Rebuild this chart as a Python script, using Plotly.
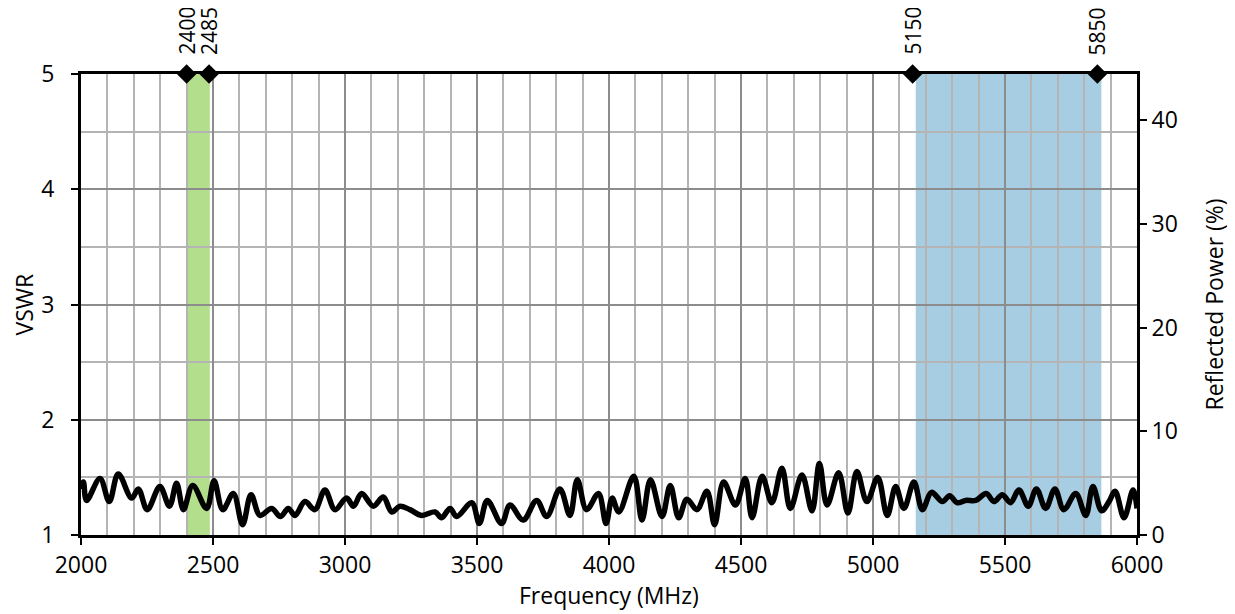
import plotly.graph_objects as go

freq_mhz = [2000, 2009, 2021, 2072, 2107, 2141, 2192, 2217, 2251, 2299, 2335, 2362, 2388, 2423, 2476,
            2504, 2537, 2577, 2612, 2644, 2678, 2722, 2756, 2785, 2811, 2848, 2886, 2924, 2962, 3006,
            3032, 3063, 3107, 3145, 3177, 3208, 3246, 3290, 3341, 3366, 3398, 3423, 3480, 3509, 3539,
            3593, 3625, 3675, 3726, 3764, 3814, 3852, 3880, 3915, 3960, 3989, 4012, 4037, 4094, 4125,
            4157, 4201, 4232, 4264, 4295, 4333, 4371, 4400, 4434, 4479, 4516, 4542, 4580, 4617, 4655,
            4687, 4731, 4769, 4797, 4826, 4870, 4905, 4939, 4977, 5018, 5054, 5086, 5117, 5155, 5187,
            5222, 5263, 5290, 5319, 5351, 5389, 5429, 5458, 5490, 5521, 5553, 5588, 5619, 5654, 5689,
            5723, 5768, 5806, 5833, 5866, 5894, 5917, 5951, 5985, 6000]
vswr = [1.40, 1.46, 1.30, 1.49, 1.29, 1.53, 1.32, 1.40, 1.22, 1.42, 1.25, 1.45, 1.22, 1.43, 1.23,
        1.47, 1.22, 1.36, 1.09, 1.35, 1.17, 1.23, 1.16, 1.23, 1.17, 1.29, 1.22, 1.39, 1.22, 1.32,
        1.25, 1.36, 1.25, 1.33, 1.20, 1.25, 1.22, 1.17, 1.20, 1.15, 1.23, 1.16, 1.28, 1.10, 1.30,
        1.10, 1.26, 1.13, 1.30, 1.16, 1.40, 1.17, 1.48, 1.22, 1.36, 1.10, 1.32, 1.20, 1.51, 1.13,
        1.48, 1.16, 1.43, 1.15, 1.31, 1.22, 1.38, 1.09, 1.46, 1.26, 1.49, 1.15, 1.51, 1.28, 1.58,
        1.23, 1.52, 1.21, 1.62, 1.26, 1.54, 1.19, 1.55, 1.29, 1.50, 1.17, 1.42, 1.23, 1.46, 1.22,
        1.37, 1.29, 1.34, 1.28, 1.30, 1.30, 1.36, 1.29, 1.35, 1.28, 1.39, 1.25, 1.40, 1.23, 1.40,
        1.22, 1.36, 1.17, 1.42, 1.21, 1.29, 1.38, 1.15, 1.39, 1.23]

band_edges = [2400, 2485, 5150, 5850]
band_labels = ["2400", "2485", "5150", "5850"]
green_band = [2400, 2488]
blue_band = [5162, 5865]
green_color = "#b3de8b"
blue_color = "#a6cde2"

x_ticks = [2000, 2500, 3000, 3500, 4000, 4500, 5000, 5500, 6000]
y_ticks = [1, 2, 3, 4, 5]
y2_ticks = [0, 10, 20, 30, 40]
vswr_range = [1, 5]
power_max = 100 * ((5 - 1) / (5 + 1)) ** 2  # reflected power at VSWR 5

FONT = "Open Sans"
FS = 23
fig = go.Figure()

fig.add_trace(go.Scatter(x=freq_mhz, y=vswr, mode="lines",
                         line=dict(color="black", width=5.5, shape="spline", smoothing=1.0),
                         showlegend=False, hoverinfo="skip"))

# invisible trace for secondary axis
fig.add_trace(go.Scatter(x=[2000, 6000], y=[0, power_max], yaxis="y2", mode="lines",
                         line=dict(width=0), opacity=0, showlegend=False, hoverinfo="skip"))

# band markers
fig.add_trace(go.Scatter(x=band_edges, y=[5] * len(band_edges), mode="markers",
                         marker=dict(symbol="diamond", size=15, color="black"),
                         cliponaxis=False, showlegend=False, hoverinfo="skip"))

for x, lab in zip(band_edges, band_labels):
    fig.add_annotation(x=x, y=1, xref="x", yref="paper", text=lab, showarrow=False,
                       textangle=-90, xanchor="center", yanchor="bottom", yshift=17,
                       font=dict(family=FONT, size=21, color="black"))

# axis titles placed as annotations for precise placement
fig.add_annotation(x=0.5, y=0, xref="paper", yref="paper", text="Frequency (MHz)",
                   showarrow=False, xanchor="center", yanchor="middle", yshift=-60,
                   font=dict(family=FONT, size=FS, color="black"))
fig.add_annotation(x=0, y=0.5, xref="paper", yref="paper", text="VSWR",
                   showarrow=False, xanchor="center", yanchor="middle", xshift=-58, textangle=-90,
                   font=dict(family=FONT, size=FS, color="black"))
fig.add_annotation(x=1, y=0.5, xref="paper", yref="paper", text="Reflected Power (%)",
                   showarrow=False, xanchor="center", yanchor="middle", xshift=76, textangle=-90,
                   font=dict(family=FONT, size=FS, color="black"))

fig.add_shape(type="rect", x0=green_band[0], x1=green_band[1], y0=0, y1=1, xref="x", yref="paper",
              fillcolor=green_color, line=dict(width=0), layer="below")
fig.add_shape(type="rect", x0=blue_band[0], x1=blue_band[1], y0=0, y1=1, xref="x", yref="paper",
              fillcolor=blue_color, line=dict(width=0), layer="below")

fig.update_layout(
    width=1227, height=606,
    margin=dict(l=73, r=98, t=66, b=79, autoexpand=False),
    paper_bgcolor="white", plot_bgcolor="rgba(0,0,0,0)",
    font=dict(family=FONT, size=FS, color="black"),
    xaxis=dict(range=[2000, 6000], tickvals=x_ticks, ticks="outside", ticklen=7, tickwidth=2,
               tickcolor="black", showline=True, linecolor="black", linewidth=3, mirror=True,
               showgrid=True, gridcolor="#8c8c8c", gridwidth=2,
               minor=dict(dtick=100, showgrid=True, gridcolor="#b4b4b4", gridwidth=1.5, ticks=""),
               zeroline=False, automargin=False, ticklabelstandoff=0,
               tickfont=dict(size=FS)),
    yaxis=dict(range=vswr_range, tickvals=y_ticks, ticks="outside", ticklen=7, tickwidth=2,
               tickcolor="black", showline=True, linecolor="black", linewidth=3, mirror=True,
               showgrid=True, gridcolor="#8c8c8c", gridwidth=2,
               minor=dict(dtick=0.5, showgrid=True, gridcolor="#b4b4b4", gridwidth=1.5, ticks=""),
               zeroline=False, automargin=False, ticklabelstandoff=12,
               tickfont=dict(size=FS)),
    yaxis2=dict(range=[0, power_max], tickvals=y2_ticks, overlaying="y", side="right",
                ticks="outside", ticklen=7, tickwidth=2, tickcolor="black",
                showline=True, linecolor="black", linewidth=3, showgrid=False, zeroline=False,
                automargin=False,
                tickprefix="<span style='color:rgba(0,0,0,0)'>0</span>",
                tickfont=dict(size=FS)),
)

fig.write_html("out.html")
